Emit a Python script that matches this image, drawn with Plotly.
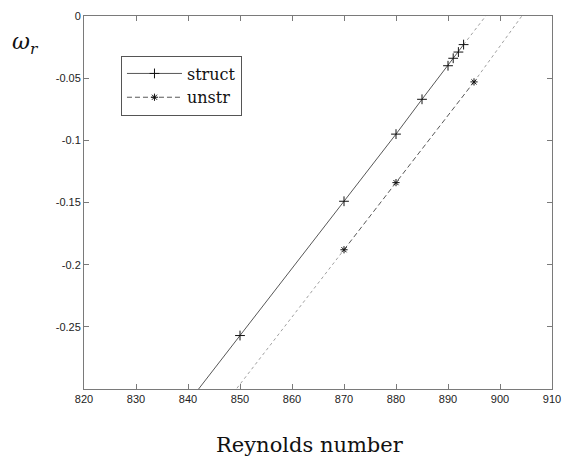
import plotly.graph_objects as go

# data
struct_x = [850, 870, 880, 885, 890, 891, 892, 893]
struct_y = [-0.257, -0.149, -0.095, -0.067, -0.040, -0.034, -0.029, -0.023]
struct_low_x = [840, 850]          # solid continuation below the range
struct_low_y = [-0.311, -0.257]
struct_ext_x = [893, 898]          # dotted extrapolation
struct_ext_y = [-0.023, 0.004]

unstr_x = [870, 880, 895]
unstr_y = [-0.188, -0.134, -0.053]
unstr_low_x = [848, 870]           # dotted extrapolation (low)
unstr_low_y = [-0.307, -0.188]
unstr_ext_x = [895, 905]           # dotted extrapolation (high)
unstr_ext_y = [-0.053, 0.0046]

x_ticks = [820, 830, 840, 850, 860, 870, 880, 890, 900, 910]
y_ticks = [0, -0.05, -0.1, -0.15, -0.2, -0.25]
y_tick_text = ["0", "-0.05", "-0.1", "-0.15", "-0.2", "-0.25"]

LINE = "#444444"
DOT = "#a0a0a0"

fig = go.Figure()
fig.add_trace(go.Scatter(x=struct_low_x, y=struct_low_y, mode="lines",
                         line=dict(color=LINE, width=0.9), showlegend=False, hoverinfo="skip"))
fig.add_trace(go.Scatter(x=struct_ext_x, y=struct_ext_y, mode="lines",
                         line=dict(color=DOT, width=1, dash="dot"), showlegend=False, hoverinfo="skip"))
fig.add_trace(go.Scatter(x=unstr_low_x, y=unstr_low_y, mode="lines",
                         line=dict(color=DOT, width=1, dash="dot"), showlegend=False, hoverinfo="skip"))
fig.add_trace(go.Scatter(x=unstr_ext_x, y=unstr_ext_y, mode="lines",
                         line=dict(color=DOT, width=1, dash="dot"), showlegend=False, hoverinfo="skip"))
fig.add_trace(go.Scatter(x=struct_x, y=struct_y, mode="lines+markers", name="struct",
                         line=dict(color=LINE, width=0.9),
                         marker=dict(symbol="cross-thin-open", size=7, color="#111",
                                     line=dict(width=1, color="#111"))))
fig.add_trace(go.Scatter(x=unstr_x, y=unstr_y, mode="lines+markers", name="unstr",
                         line=dict(color=LINE, width=0.9, dash="5px,3px"),
                         marker=dict(symbol="asterisk-open", size=6, color="#111",
                                     line=dict(width=1, color="#111"))))

axis_common = dict(showline=True, linecolor="#7a7a7a", linewidth=1, mirror="ticks",
                   ticks="inside", ticklen=5, tickcolor="#7a7a7a", tickwidth=1,
                   showgrid=False, zeroline=False,
                   tickfont=dict(family="Liberation Sans, Arial, sans-serif", size=11, color="#222"))

fig.update_xaxes(range=[820, 910], tickvals=x_ticks, **axis_common)
fig.update_yaxes(range=[-0.3, 0], tickvals=y_ticks, ticktext=y_tick_text, **axis_common)

fig.update_layout(
    width=571, height=459,
    margin=dict(l=84, r=10, t=13, b=70),
    paper_bgcolor="white", plot_bgcolor="white",
    legend=dict(x=0.079, y=0.894, xanchor="left", yanchor="top",
                bordercolor="#555", borderwidth=1, bgcolor="white",
                font=dict(family="DejaVu Serif, serif", size=16, color="#111"),
                tracegroupgap=0, itemwidth=55),
    annotations=[
        dict(text="Reynolds number", xref="paper", yref="paper", x=0.482, y=-0.149,
             xanchor="center", yanchor="middle", showarrow=False,
             font=dict(family="DejaVu Serif, serif", size=21, color="#111")),
        dict(text="<i>ω</i><sub><i>r</i></sub>", xref="paper", yref="paper", x=-0.126, y=0.926,
             xanchor="center", yanchor="middle", showarrow=False,
             font=dict(family="DejaVu Serif, serif", size=22, color="#111")),
    ],
)

fig.write_html("out.html")
